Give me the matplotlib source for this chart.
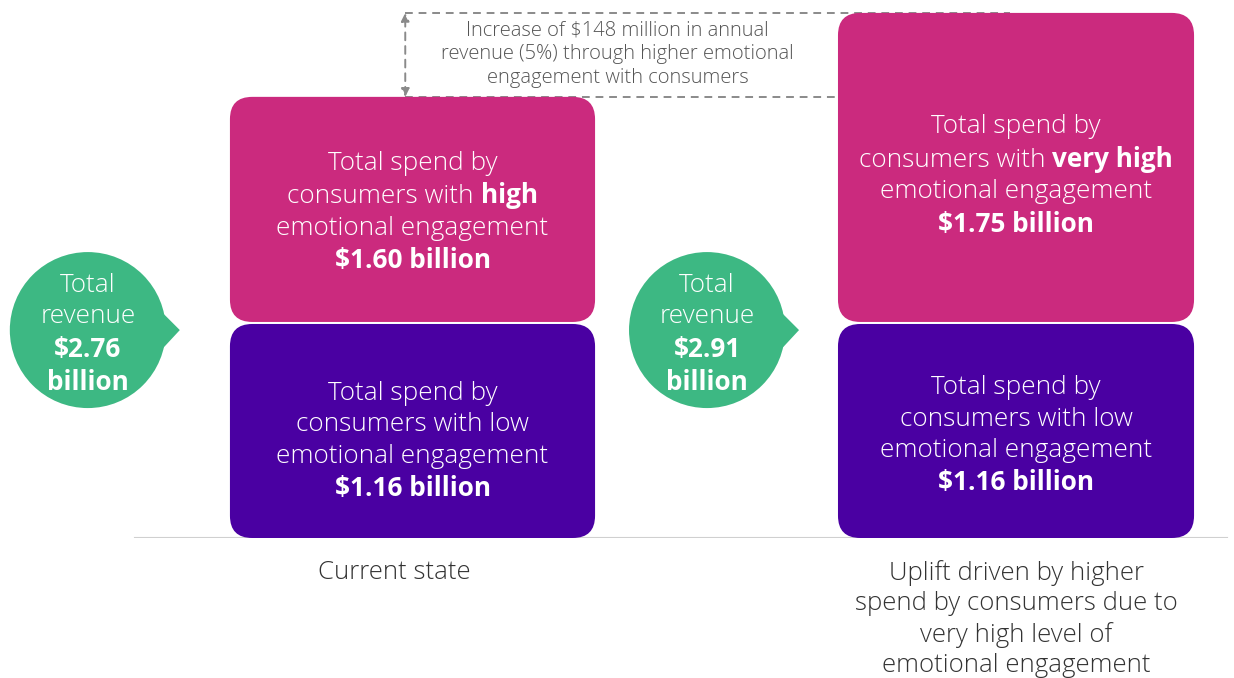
import matplotlib
matplotlib.use('Agg')
import matplotlib.pyplot as plt
from matplotlib.patches import FancyBboxPatch, Circle, Polygon
from matplotlib.offsetbox import TextArea, HPacker, VPacker, AnnotationBbox
from matplotlib.transforms import IdentityTransform

# Data
states = ['Current state',
          'Uplift driven by higher\nspend by consumers due to\nvery high level of\nemotional engagement']
low_spend = [1.16, 1.16]      # $ billion
high_spend = [1.60, 1.75]     # $ billion
total_revenue = [2.76, 2.91]  # $ billion
high_words = ['high', 'very high']
# The graphic is not drawn to scale: segment heights as they appear
low_height = [1.16, 1.16]
high_height = [1.22, 1.675]
uplift_text = ('Increase of $148 million in annual\n'
               'revenue (5%) through higher emotional\n'
               'engagement with consumers')

# Style
PINK = '#CB2A7E'
PURPLE = '#4A00A2'
GREEN = '#3DB883'
FONT = 'Open Sans'
plt.rcParams['font.family'] = [FONT, 'DejaVu Sans']
FS = 18.8
GAP = 0.011
widths = [0.605, 0.59]
bubble_dx = [-0.538, -0.512]
# small vertical nudges of the text blocks, as in the picture
low_dy = [-0.056, -0.026]
high_dy = [-0.016, -0.046]

fig = plt.figure(figsize=(12.34, 6.78), dpi=100)
ax = fig.add_axes([0, 140 / 678, 1, 538 / 678])
ax.set_xlim(-0.6835, 1.3612)
ax.set_ylim(0, 2.916)
ax.axis('off')

# make the rounded corners circular on screen
px_x = 1234 / (1.3612 + 0.6835)
px_y = 538 / 2.916
aspect = px_x / px_y


def rounded_bar(x, w, y0, h, color):
    box = FancyBboxPatch((x - w / 2, y0), w, h,
                         boxstyle='round,pad=0,rounding_size=0.037',
                         mutation_aspect=aspect, fc=color, ec='none', zorder=3)
    ax.add_patch(box)


def text_block(lines, x, y, color='white', size=FS, sep=4.6):
    # lines: list of lists of (text, weight)
    rows = []
    for parts in lines:
        areas = [TextArea(t, textprops=dict(color=color, fontsize=size,
                                            fontweight=w, family=FONT))
                 for t, w in parts]
        rows.append(HPacker(children=areas, pad=0, sep=0, align='baseline'))
    box = VPacker(children=rows, pad=0, sep=sep, align='center')
    ab = AnnotationBbox(box, (x, y), xycoords='data', frameon=False,
                        box_alignment=(0.5, 0.5), zorder=5)
    ax.add_artist(ab)


for i in range(len(states)):
    x = i
    # low engagement segment
    rounded_bar(x, widths[i], 0, low_height[i], PURPLE)
    text_block([[('Total spend by', 'light')],
                [('consumers with low', 'light')],
                [('emotional engagement', 'light')],
                [('$%.2f billion' % low_spend[i], 'bold')]],
               x, low_height[i] / 2 + low_dy[i])

    # high engagement segment
    y0 = low_height[i] + GAP
    rounded_bar(x, widths[i], y0, high_height[i], PINK)
    text_block([[('Total spend by', 'light')],
                [('consumers with ', 'light'), (high_words[i], 'bold')],
                [('emotional engagement', 'light')],
                [('$%.2f billion' % high_spend[i], 'bold')]],
               x, y0 + high_height[i] / 2 + high_dy[i])

    # total revenue bubble
    cx, cy = ax.transData.transform((x + bubble_dx[i], 1.127))
    ax.add_patch(Circle((cx, cy), 78, transform=IdentityTransform(),
                        fc=GREEN, ec='none', zorder=3))
    ax.add_patch(Polygon([(cx + 68, cy + 24), (cx + 92, cy),
                          (cx + 66, cy - 28)], closed=True,
                         transform=IdentityTransform(), fc=GREEN, ec='none',
                         zorder=3))
    text_block([[('Total', 'light')], [('revenue', 'light')],
                [('$%.2f' % total_revenue[i], 'bold')],
                [('billion', 'bold')]],
               x + bubble_dx[i], 1.103)

    # category label
    ax.text(x - (0.03 if i == 0 else 0), -0.12, states[i], ha='center',
            va='top', fontsize=18.5, fontweight='light', color='#333333',
            linespacing=1.27)

# baseline
ax.axhline(0, xmin=135 / 1234, xmax=1227 / 1234, color='#d0d0d0', lw=1.5,
           zorder=1)

# uplift annotation
top_now = low_height[0] + GAP + high_height[0]
top_new = low_height[1] + GAP + high_height[1]
dash = (0, (4, 3))
ax.plot([-0.012, 0.99], [top_new, top_new], color='#8a8a8a', lw=1.4,
        linestyle=dash, zorder=2)
ax.plot([-0.012, 0.7], [top_now, top_now], color='#8a8a8a', lw=1.4,
        linestyle=dash, zorder=2)
ax.annotate('', xy=(-0.012, top_new), xytext=(-0.012, top_now),
            arrowprops=dict(arrowstyle='<|-|>', color='#8a8a8a', lw=1.4,
                            linestyle=dash, shrinkA=0, shrinkB=0,
                            mutation_scale=12), zorder=2)
ax.text(0.34, (top_now + top_new) / 2 + 0.003, uplift_text, ha='center',
        va='center', fontsize=14.5, fontweight='light', color='#555555',
        linespacing=1.24)

fig.savefig('out.png', dpi=100)
